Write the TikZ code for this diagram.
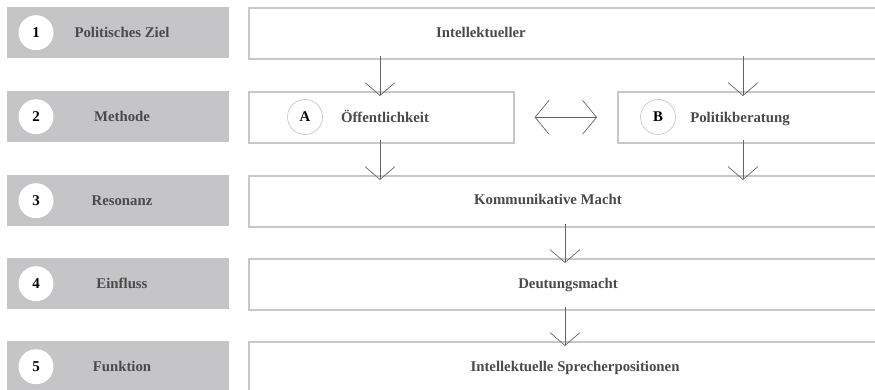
\documentclass[tikz,border=0pt]{standalone}
\usepackage{fontspec}
\setmainfont{Liberation Serif}
\usetikzlibrary{positioning, arrows.meta, calc}
\definecolor{bandgray}{HTML}{C5C5C7}
\definecolor{framegray}{HTML}{C8C8C8}
\definecolor{textgray}{HTML}{4A4A4A}

\begin{document}
\begin{tikzpicture}[x=1pt, y=-1pt,
  every node/.style={font=\bfseries\fontsize{14.8}{17}\selectfont, text=textgray},
  lbl/.style    = {text height=10pt, text depth=1pt, inner sep=0pt},
  band/.style   = {fill=bandgray, draw=none, minimum width=222pt, minimum height=51pt, inner sep=0pt, anchor=north west},
  num/.style    = {circle, fill=white, minimum size=35pt, inner sep=0pt, text=black, font=\bfseries\fontsize{15}{17}\selectfont},
  frame/.style  = {draw=framegray, line width=1.6pt, fill=white, minimum height=51pt, inner sep=0pt, anchor=north west},
  letter/.style = {circle, draw=framegray, line width=0.7pt, minimum size=35pt, inner sep=0pt, text=black},
  arr/.style    = {-{Straight Barb[length=13pt, width=30pt]}, black!60, line width=0.7pt},
  dbl/.style    = {{Straight Barb[length=14pt, width=34pt]}-{Straight Barb[length=14pt, width=34pt]}, black!60, line width=0.7pt},
]
  \useasboundingbox (0,0) rectangle (875,390);
  \clip (0,0) rectangle (875,390);

  % left column: stages
  \foreach \i/\y/\txt in {1/7/Politisches Ziel, 2/91/Methode, 3/175/Resonanz, 4/258/Einfluss, 5/341/Funktion}{
    \node[band] (band\i) at (7,\y) {};
    \node[num] (num\i) at ($(band\i.west)+(29,0)$) {\i};
    \node[lbl] at ($(band\i.west)+(115,0)$) {\txt};
  }

  % right column
  \node[frame, minimum width=640pt] (intel) at (248,7)   {};
  \node[frame, minimum width=265pt] (oeff)  at (248,91)  {};
  \node[frame, minimum width=270pt] (polb)  at (617,91)  {};
  \node[frame, minimum width=640pt] (komm)  at (248,175) {};
  \node[frame, minimum width=640pt] (deut)  at (248,258) {};
  \node[frame, minimum width=640pt] (spre)  at (248,341) {};

  \node[lbl] at (481,33)  {Intellektueller};
  \node[letter] (a) at (305,117) {A};
  \node[letter] (b) at (658,117) {B};
  \node[lbl] at (385,118) {Öffentlichkeit};
  \node[lbl] at (740,118) {Politikberatung};
  \node[lbl] at (548,200) {Kommunikative Macht};
  \node[lbl] at (568,284) {Deutungsmacht};
  \node[lbl] at (575,367) {Intellektuelle Sprecherpositionen};

  % connectors
  \draw[arr] ([yshift=4pt]intel.south -| 380,0) -- ([yshift=-5pt]oeff.north -| 380,0);
  \draw[arr] ([yshift=4pt]intel.south -| 743,0) -- ([yshift=-5pt]polb.north -| 743,0);
  \draw[dbl] ([xshift=20pt]oeff.east) -- ([xshift=-20pt]polb.west);
  \draw[arr] ([yshift=4pt]oeff.south -| 380,0) -- ([yshift=-5pt]komm.north -| 380,0);
  \draw[arr] ([yshift=4pt]polb.south -| 743,0) -- ([yshift=-5pt]komm.north -| 743,0);
  \draw[arr] ([yshift=4pt]komm.south -| 565,0) -- ([yshift=-5pt]deut.north -| 565,0);
  \draw[arr] ([yshift=4pt]deut.south -| 565,0) -- ([yshift=-5pt]spre.north -| 565,0);
\end{tikzpicture}
\end{document}
